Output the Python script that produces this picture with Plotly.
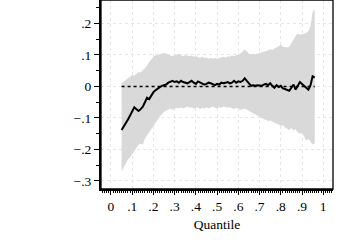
import plotly.graph_objects as go

quantiles = [round(0.05 + 0.01 * i, 2) for i in range(92)]

estimate = [-0.138, -0.128, -0.118, -0.105, -0.092, -0.080, -0.066, -0.072, -0.078, -0.072,
            -0.064, -0.050, -0.036, -0.040, -0.028, -0.018, -0.012, -0.006, -0.002, 0.002,
            0.004, 0.006, 0.012, 0.014, 0.018, 0.014, 0.016, 0.012, 0.018, 0.014,
            0.012, 0.010, 0.014, 0.018, 0.012, 0.008, 0.016, 0.012, 0.010, 0.006,
            0.008, 0.012, 0.010, 0.006, 0.004, 0.008, 0.006, 0.012, 0.010, 0.012,
            0.014, 0.010, 0.012, 0.018, 0.012, 0.016, 0.014, 0.018, 0.026, 0.018,
            0.010, 0.002, 0.004, 0.002, 0.004, 0.004, 0.002, 0.006, 0.008, 0.004,
            0.010, 0.002, -0.004, 0.004, -0.002, 0.002, -0.006, -0.008, -0.010, -0.014,
            -0.004, 0.006, -0.010, 0.000, 0.014, 0.008, 0.002, -0.004, -0.010, 0.004,
            0.032, 0.028]

upper = [0.010, 0.016, 0.020, 0.026, 0.030, 0.036, 0.034, 0.040, 0.046, 0.044,
         0.052, 0.058, 0.066, 0.078, 0.088, 0.094, 0.098, 0.100, 0.102, 0.104,
         0.106, 0.104, 0.102, 0.098, 0.096, 0.098, 0.100, 0.104, 0.098, 0.096,
         0.100, 0.098, 0.096, 0.098, 0.094, 0.096, 0.092, 0.090, 0.094, 0.090,
         0.092, 0.088, 0.090, 0.088, 0.090, 0.088, 0.090, 0.092, 0.094, 0.092,
         0.096, 0.094, 0.098, 0.096, 0.100, 0.100, 0.104, 0.110, 0.118, 0.112,
         0.104, 0.102, 0.104, 0.102, 0.104, 0.104, 0.106, 0.108, 0.112, 0.114,
         0.118, 0.116, 0.120, 0.124, 0.130, 0.132, 0.126, 0.124, 0.124, 0.126,
         0.138, 0.150, 0.160, 0.168, 0.164, 0.166, 0.168, 0.170, 0.176, 0.190,
         0.236, 0.246]

lower = [-0.270, -0.258, -0.245, -0.232, -0.225, -0.216, -0.205, -0.195, -0.185, -0.182,
         -0.185, -0.165, -0.155, -0.142, -0.136, -0.125, -0.115, -0.105, -0.095, -0.088,
         -0.080, -0.076, -0.072, -0.070, -0.074, -0.072, -0.068, -0.070, -0.066, -0.070,
         -0.068, -0.064, -0.068, -0.066, -0.070, -0.068, -0.066, -0.072, -0.068, -0.070,
         -0.066, -0.070, -0.068, -0.064, -0.068, -0.070, -0.066, -0.068, -0.064, -0.066,
         -0.068, -0.066, -0.070, -0.072, -0.068, -0.070, -0.074, -0.072, -0.070, -0.074,
         -0.078, -0.082, -0.086, -0.090, -0.094, -0.098, -0.100, -0.104, -0.106, -0.110,
         -0.108, -0.112, -0.116, -0.118, -0.120, -0.126, -0.122, -0.130, -0.134, -0.138,
         -0.132, -0.140, -0.136, -0.146, -0.150, -0.148, -0.158, -0.172, -0.166, -0.176,
         -0.184, -0.180]

zero_line = [0.0 for _ in quantiles]

x_tickvals = [0, 0.1, 0.2, 0.3, 0.4, 0.5, 0.6, 0.7, 0.8, 0.9, 1]
x_ticktext = ["0", ".1", ".2", ".3", ".4", ".5", ".6", ".7", ".8", ".9", "1"]
y_tickvals = [0.2, 0.1, 0, -0.1, -0.2, -0.3]
y_ticktext = [".2", ".1", "0", "\u2212.1", "\u2212.2", "\u2212.3"]

fig = go.Figure()
fig.add_trace(go.Scatter(x=quantiles, y=upper, mode="lines",
                         line=dict(width=0, color="#d9d9d9"), showlegend=False, hoverinfo="skip"))
fig.add_trace(go.Scatter(x=quantiles, y=lower, mode="lines", fill="tonexty",
                         fillcolor="#d9d9d9", line=dict(width=0, color="#d9d9d9"),
                         showlegend=False, hoverinfo="skip"))
fig.add_trace(go.Scatter(x=quantiles, y=zero_line, mode="lines",
                         line=dict(width=1.4, color="black", dash="dot"), showlegend=False))
fig.add_trace(go.Scatter(x=quantiles, y=estimate, mode="lines",
                         line=dict(width=2, color="black"), showlegend=False))

font = dict(family="Liberation Serif, Times New Roman, serif", size=13.5, color="black")

fig.update_layout(
    width=360, height=240,
    margin=dict(l=101, r=27, t=0, b=51, pad=0),
    paper_bgcolor="white", plot_bgcolor="white",
    font=font,
    xaxis=dict(range=[-0.047, 1.046], tickvals=x_tickvals, ticktext=x_ticktext,
               ticks="outside", ticklen=4, tickwidth=1, tickcolor="black",
               showline=True, linecolor="black", linewidth=2,
               showgrid=True, gridcolor="#e6e6e6", griddash="dot", gridwidth=1,
               zeroline=False,
               minor=dict(dtick=0.01, tick0=0, ticks="outside", ticklen=2, tickwidth=1,
                          tickcolor="black", showgrid=False),
               title=dict(text="Quantile", font=font, standoff=6),
               tickfont=font),
    yaxis=dict(range=[-0.3255, 0.2744], tickvals=y_tickvals, ticktext=y_ticktext,
               ticks="outside", ticklen=5, tickwidth=1, tickcolor="black",
               showline=True, linecolor="black", linewidth=2,
               showgrid=True, gridcolor="#e6e6e6", griddash="dot", gridwidth=1,
               zeroline=False,
               minor=dict(dtick=0.05, tick0=0, ticks="outside", ticklen=3, tickwidth=1,
                          tickcolor="black", showgrid=False),
               tickfont=font),
    shapes=[dict(type="rect", xref="paper", yref="paper", x0=0, x1=1, y0=0, y1=1,
                 line=dict(color="black", width=1.3), layer="above")],
)

fig.write_html("out.html", config={"displayModeBar": False},
               post_script="document.body.style.margin='0';")
